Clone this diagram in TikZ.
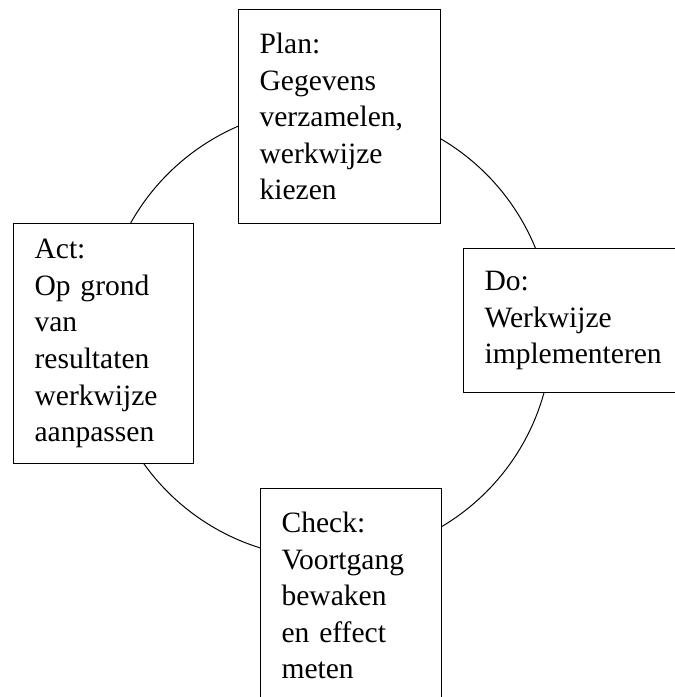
\documentclass[tikz,border=0pt]{standalone}
\usepackage{fontspec}
\setmainfont{Liberation Serif}
\usetikzlibrary{positioning}

\begin{document}
\begin{tikzpicture}[
        x=0.025cm, y=-0.025cm,
        font=\fontsize{21}{26}\selectfont,
        box/.style={draw, fill=white, line width=0.8pt, align=left, anchor=north west, inner xsep=0.525cm, inner ysep=0pt},
        ring/.style={line width=0.7pt}
    ]
        \useasboundingbox (0,0) rectangle (675,697);
        \clip (0,0) rectangle (675,697);

        \coordinate (centre) at (327,333);
        \draw[ring] (centre) circle [radius=225];

        \node[box, text width=4.0cm, minimum height=5.35cm] (plan) at (238,9) {Plan:\\Gegevens\\verzamelen,\\werkwijze\\kiezen};
        \node[box, text width=4.6cm, minimum height=3.6cm] (do) at (463,248) {Do:\\Werkwijze\\implementeren};
        \node[box, text width=3.475cm, minimum height=5.35cm] (check) at (260,488) {Check:\\Voortgang\\bewaken\\en effect\\meten};
        \node[box, text width=3.45cm, minimum height=6.0cm] (act) at (13,223) {Act:\\Op grond\\van\\resultaten\\werkwijze\\aanpassen};
    \end{tikzpicture}
\end{document}
